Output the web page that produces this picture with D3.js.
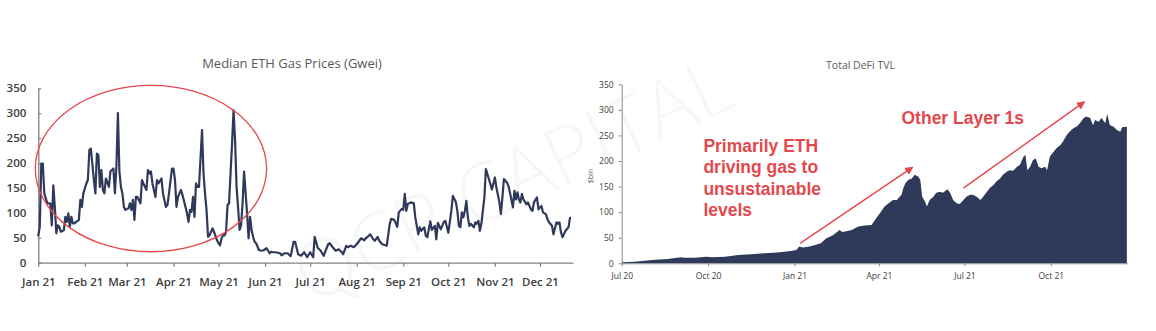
<!DOCTYPE html>
<html>
<head>
<meta charset="utf-8">
<script src="https://cdn.jsdelivr.net/npm/d3@7"></script>
<style>
  body { margin: 0; background: #fff; }
  svg { display: block; font-family: "Open Sans", sans-serif; }
</style>
</head>
<body>
<svg id="chart" width="1156" height="331"></svg>
<script>
// Median ETH gas price, days counted from 1 Jan 2021
var gasStart = new Date(2021, 0, 1);
var gasDay = [
  0, 1, 2, 3, 4, 6, 8, 9, 10, 11, 12, 13, 14, 15, 17, 18, 19, 20, 21, 22, 23, 24, 27, 28, 29, 30,
  32, 33, 34, 35, 37, 38, 39, 40, 41, 42, 43, 44, 45, 47, 48, 49, 50, 51, 52, 53, 54, 55, 56, 57, 58,
  60, 61, 62, 63, 64, 65, 66, 68, 69, 70, 72, 73, 74, 75, 76, 78, 79, 80, 82, 83, 85, 86, 87, 89,
  90, 91, 92, 93, 95, 96, 98, 99, 100, 101, 102, 103, 104, 105, 106, 107, 109, 110, 111, 112, 113, 114, 115, 116, 117, 119,
  120, 121, 122, 123, 124, 125, 126, 127, 129, 130, 131, 132, 133, 134, 135, 136, 137, 139, 140, 141, 142, 143, 144, 145, 146, 147, 149, 150,
  152, 154, 155, 156, 158, 161, 162, 164, 166, 168, 170, 171, 173, 175, 177, 179,
  181, 183, 184, 186, 188, 190, 193, 194, 196, 198, 200, 202, 203, 205, 206, 208, 210,
  212, 213, 215, 217, 218, 220, 221, 223, 224, 226, 227, 229, 230, 232, 234, 235, 237, 239, 240, 242,
  243, 244, 245, 246, 248, 250, 251, 253, 254, 255, 257, 258, 259, 261, 262, 264, 265, 266, 268, 270, 271,
  273, 275, 276, 278, 279, 280, 281, 282, 283, 284, 285, 286, 287, 288, 290, 291, 292, 293, 294, 295, 297, 298, 300, 302,
  304, 305, 307, 308, 309, 310, 312, 313, 314, 316, 317, 318, 319, 320, 321, 322, 323, 325, 326, 328, 329, 330, 332, 333,
  335, 336, 338, 339, 340, 342, 343, 345, 346, 347, 348, 349, 351, 353, 354
];
var gasGwei = [
  55, 72, 199, 199, 139, 119, 119, 75, 155, 112, 59, 75, 72, 62, 65, 92, 82, 99, 72, 92, 79, 79, 86, 126, 112, 139,
  159, 166, 226, 229, 166, 139, 219, 216, 152, 186, 146, 139, 169, 152, 183, 186, 189, 139, 193, 300, 183, 152, 139, 112, 106,
  109, 119, 106, 126, 86, 132, 132, 119, 166, 159, 146, 186, 179, 183, 159, 132, 166, 159, 169, 139, 112, 116, 139, 189,
  189, 166, 112, 132, 146, 136, 112, 99, 82, 106, 102, 132, 92, 159, 152, 152, 266, 179, 139, 106, 52, 55, 62, 69, 62, 45,
  39, 35, 49, 55, 55, 62, 116, 119, 239, 306, 246, 152, 112, 66, 75, 119, 183, 99, 49, 92, 66, 52, 42, 39, 32, 25, 24, 25,
  29, 19, 22, 21, 21, 19, 15, 19, 19, 13, 42, 42, 17, 14, 21, 11,
  21, 11, 52, 30, 24, 14, 37, 39, 31, 24, 27, 21, 17, 34, 31, 34, 31,
  37, 41, 49, 45, 49, 54, 57, 47, 44, 52, 44, 37, 36, 34, 78, 88, 86, 72, 101, 108,
  106, 138, 104, 118, 121, 119, 91, 57, 71, 64, 71, 54, 51, 83, 66, 74, 47, 80, 67, 82, 84,
  60, 104, 134, 122, 104, 74, 71, 101, 91, 104, 124, 91, 74, 78, 71, 81, 78, 84, 64, 78, 131, 188, 168, 147,
  171, 151, 121, 98, 131, 168, 161, 154, 141, 111, 144, 127, 141, 127, 121, 138, 127, 117, 121, 107, 104, 121, 131, 107,
  114, 101, 97, 87, 81, 74, 57, 81, 78, 81, 61, 51, 64, 71, 90
];
var gasTicks = [0, 50, 100, 150, 200, 250, 300, 350];

// Total DeFi TVL ($bln), days counted from 1 Jul 2020
var tvlStart = new Date(2020, 6, 1);
var tvlDay = [
  0, 14, 32, 49, 63, 67, 78, 90, 96, 110, 124, 138, 152, 166, 180,
  186, 189, 193, 200, 206, 212, 218, 225, 232, 235, 238, 245, 252, 259, 266, 271,
  275, 280, 286, 289, 293, 298, 300, 302, 305, 309, 312, 316, 318, 320, 323, 325, 328, 332, 335, 339, 342, 347, 350, 353, 357, 360,
  364, 367, 371, 374, 378, 382, 385, 389, 392, 396, 399, 403, 406, 410, 413, 417, 421, 424, 428, 430, 432, 435, 438, 441, 444, 447, 451, 453,
  456, 460, 463, 467, 470, 474, 477, 481, 485, 488, 492, 495, 499, 502, 504, 508, 511, 515, 517, 520, 524, 527, 531, 533, 538
];
var tvlBln = [
  2, 3, 6.5, 8.5, 12, 11, 11, 13, 12, 13, 16, 17.5, 19.5, 21, 24,
  26, 33, 31, 33, 36, 39, 49, 55, 65, 61, 62, 65, 72, 74, 75, 88,
  98, 111, 120, 124, 124, 134, 147, 156, 163, 166, 173, 169, 163, 130, 121, 111, 124, 130, 138, 140, 138, 145, 137, 124, 117, 116,
  124, 130, 134, 134, 130, 124, 130, 140, 147, 153, 160, 166, 173, 179, 182, 181, 189, 192, 209, 212, 182, 189, 202, 205, 189, 186, 189, 182,
  209, 218, 225, 231, 238, 251, 257, 264, 268, 274, 284, 287, 284, 270, 280, 277, 284, 274, 292, 270, 267, 261, 257, 266, 267
];
var tvlTicks = [0, 50, 100, 150, 200, 250, 300, 350];

var red = '#e5484c';
var navy = '#2f3a5a';
var monthFmt = d3.timeFormat('%b %y');

var gas = gasDay.map(function(d, i) {
  return { date: d3.timeDay.offset(gasStart, d), value: gasGwei[i] };
});
var tvl = tvlDay.map(function(d, i) {
  return { date: d3.timeDay.offset(tvlStart, d), value: tvlBln[i] };
});

var svg = d3.select('#chart');

// faint watermark behind both panels
svg.append('text')
  .attr('transform', 'translate(310,305) rotate(-25)')
  .attr('font-size', 80)
  .attr('font-weight', 300)
  .attr('fill', '#000')
  .attr('fill-opacity', 0.03)
  .text('QCP CAPITAL');

// ---- left panel: gas prices ----
var gx = d3.scaleTime()
  .domain([gasStart, d3.timeDay.offset(gasStart, 356)])
  .range([38.3, 573]);
var gy = d3.scaleLinear().domain([0, 350]).range([262.7, 88.3]);

svg.append('text')
  .attr('x', 292).attr('y', 68.3)
  .attr('text-anchor', 'middle')
  .attr('font-size', 13)
  .attr('fill', '#595959')
  .text('Median ETH Gas Prices (Gwei)');

var gxAxis = svg.append('g')
  .attr('transform', 'translate(0,' + gy(0) + ')')
  .call(d3.axisBottom(gx)
    .ticks(d3.timeMonth.every(1))
    .tickFormat(monthFmt)
    .tickSize(4).tickSizeOuter(0).tickPadding(11));

var gyAxis = svg.append('g')
  .attr('transform', 'translate(' + gx.range()[0] + ',0)')
  .call(d3.axisLeft(gy)
    .tickValues(gasTicks)
    .tickSize(-3).tickSizeOuter(0).tickPadding(12));

[gxAxis, gyAxis].forEach(function(a) {
  a.select('.domain').attr('stroke', '#808080').attr('stroke-width', 1.3);
  a.selectAll('.tick line').attr('stroke', '#808080').attr('stroke-width', 1.2);
  a.selectAll('.tick text')
    .attr('fill', '#404040')
    .attr('font-family', '"Open Sans", sans-serif')
    .attr('font-weight', 600)
    .attr('font-size', 11.5);
});

var gasLine = d3.line()
  .x(function(d) { return gx(d.date); })
  .y(function(d) { return gy(d.value); });

svg.append('path')
  .datum(gas)
  .attr('fill', 'none')
  .attr('stroke', navy)
  .attr('stroke-width', 2.2)
  .attr('stroke-linejoin', 'round')
  .attr('stroke-linecap', 'round')
  .attr('d', gasLine);

// red ring round the first-half spikes
var ringC = d3.timeDay.offset(gasStart, 75);
svg.append('ellipse')
  .attr('cx', gx(ringC))
  .attr('cy', gy(189))
  .attr('rx', gx(d3.timeDay.offset(gasStart, 152)) - gx(ringC))
  .attr('ry', gy(0) - gy(167))
  .attr('fill', 'none')
  .attr('stroke', red)
  .attr('stroke-width', 1.3);

// ---- right panel: DeFi TVL ----
var tx = d3.scaleTime()
  .domain([tvlStart, d3.timeDay.offset(tvlStart, 539)])
  .range([621.7, 1127.8]);
var ty = d3.scaleLinear().domain([0, 350]).range([263.3, 84.3]);

svg.append('text')
  .attr('x', 860.5).attr('y', 69.3)
  .attr('text-anchor', 'middle')
  .attr('font-size', 10.5)
  .attr('fill', '#595959')
  .text('Total DeFi TVL');

svg.append('text')
  .attr('transform', 'translate(593,176) rotate(-90)')
  .attr('text-anchor', 'middle')
  .attr('font-size', 7)
  .attr('fill', '#707070')
  .text('$bln');

var tvlArea = d3.area()
  .x(function(d) { return tx(d.date); })
  .y0(ty(0))
  .y1(function(d) { return ty(d.value); });

svg.append('path')
  .datum(tvl)
  .attr('fill', navy)
  .attr('d', tvlArea);

var txAxis = svg.append('g')
  .attr('transform', 'translate(0,' + ty(0) + ')')
  .call(d3.axisBottom(tx)
    .ticks(d3.timeMonth.every(3))
    .tickFormat(monthFmt)
    .tickSize(3).tickSizeOuter(0).tickPadding(7));

var tyAxis = svg.append('g')
  .attr('transform', 'translate(' + tx.range()[0] + ',0)')
  .call(d3.axisLeft(ty)
    .tickValues(tvlTicks)
    .tickSize(3).tickSizeOuter(0).tickPadding(5));

[txAxis, tyAxis].forEach(function(a) {
  a.select('.domain').attr('stroke', '#8c8c8c').attr('stroke-width', 1);
  a.selectAll('.tick line').attr('stroke', '#8c8c8c');
  a.selectAll('.tick text')
    .attr('fill', '#404040')
    .attr('font-family', '"Open Sans", sans-serif')
    .attr('font-size', 8.5);
});

// annotations
svg.append('defs').append('marker')
  .attr('id', 'head')
  .attr('viewBox', '0 0 10 10')
  .attr('refX', 9).attr('refY', 5)
  .attr('markerWidth', 6).attr('markerHeight', 6)
  .attr('orient', 'auto')
  .append('path')
  .attr('d', 'M0,0L10,5L0,10z')
  .attr('fill', red);

var arrows = [
  { from: [190, 39], to: [310, 188] },
  { from: [364, 147], to: [493, 316] }
];
arrows.forEach(function(a) {
  svg.append('line')
    .attr('x1', tx(d3.timeDay.offset(tvlStart, a.from[0])))
    .attr('y1', ty(a.from[1]))
    .attr('x2', tx(d3.timeDay.offset(tvlStart, a.to[0])))
    .attr('y2', ty(a.to[1]))
    .attr('stroke', red)
    .attr('stroke-width', 1.4)
    .attr('marker-end', 'url(#head)');
});

var note1 = svg.append('text')
  .attr('x', tx(d3.timeDay.offset(tvlStart, 87)))
  .attr('y', ty(218))
  .attr('font-family', '"Liberation Sans", Arial, sans-serif')
  .attr('font-weight', 'bold')
  .attr('font-size', 17.5)
  .attr('fill', red);
['Primarily ETH', 'driving gas to', 'unsustainable', 'levels'].forEach(function(s, i) {
  note1.append('tspan')
    .attr('x', tx(d3.timeDay.offset(tvlStart, 87)))
    .attr('dy', i === 0 ? 0 : 21.4)
    .text(s);
});

svg.append('text')
  .attr('x', tx(d3.timeDay.offset(tvlStart, 298)))
  .attr('y', ty(272))
  .attr('font-family', '"Liberation Sans", Arial, sans-serif')
  .attr('font-weight', 'bold')
  .attr('font-size', 17.5)
  .attr('fill', red)
  .text('Other Layer 1s');
</script>
</body>
</html>
